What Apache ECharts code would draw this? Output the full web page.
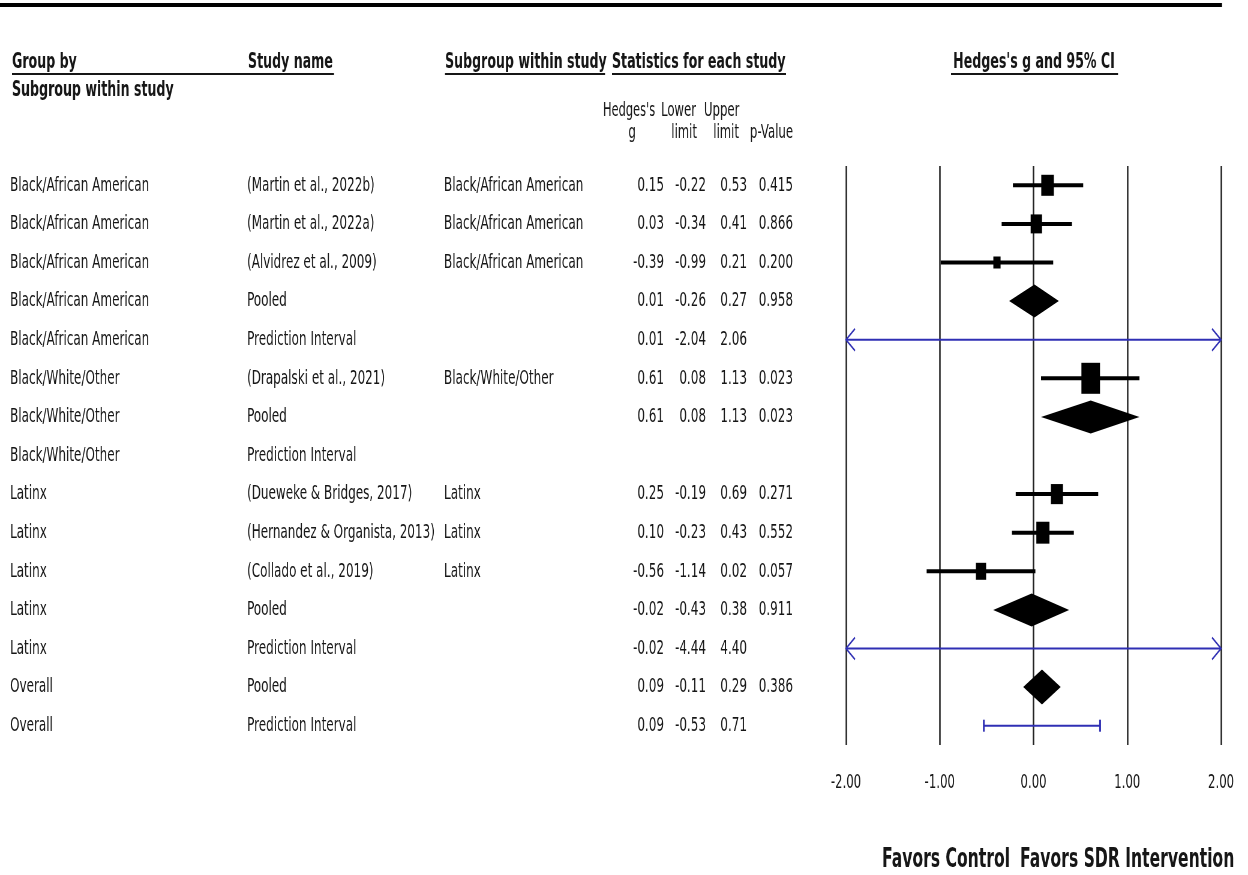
<!DOCTYPE html>
<html>
<head>
<meta charset="utf-8">
<script src="https://cdn.jsdelivr.net/npm/echarts@6/dist/echarts.min.js"></script>
<style>
  html, body { margin: 0; padding: 0; background: #fff; overflow: hidden; width: 1248px; height: 875px; }
  /* the figure is laid out wide and squeezed horizontally, like the exported plot */
  #chart { width: 2080px; height: 875px; transform: scaleX(0.6); transform-origin: 0 0; }
</style>
</head>
<body>
<div id="chart"></div>
<script>
// ---- table rows ----
const groupBy = [
  'Black/African American', 'Black/African American', 'Black/African American',
  'Black/African American', 'Black/African American',
  'Black/White/Other', 'Black/White/Other', 'Black/White/Other',
  'Latinx', 'Latinx', 'Latinx', 'Latinx', 'Latinx',
  'Overall', 'Overall'
];
const studyName = [
  '(Martin et al., 2022b)', '(Martin et al., 2022a)', '(Alvidrez et al., 2009)',
  'Pooled', 'Prediction Interval',
  '(Drapalski et al., 2021)', 'Pooled', 'Prediction Interval',
  '(Dueweke & Bridges, 2017)', '(Hernandez & Organista, 2013)', '(Collado et al., 2019)',
  'Pooled', 'Prediction Interval',
  'Pooled', 'Prediction Interval'
];
const subgroup = [
  'Black/African American', 'Black/African American', 'Black/African American', '', '',
  'Black/White/Other', '', '',
  'Latinx', 'Latinx', 'Latinx', '', '',
  '', ''
];
// row type: individual study, pooled estimate, or prediction interval
const rowKind = [
  'study', 'study', 'study', 'pooled', 'pi',
  'study', 'pooled', 'pi',
  'study', 'study', 'study', 'pooled', 'pi',
  'overall', 'pi'
];
const hedgesG   = [0.15, 0.03, -0.39, 0.01, 0.01, 0.61, 0.61, null, 0.25, 0.10, -0.56, -0.02, -0.02, 0.09, 0.09];
const lowerLim  = [-0.22, -0.34, -0.99, -0.26, -2.04, 0.08, 0.08, null, -0.19, -0.23, -1.14, -0.43, -4.44, -0.11, -0.53];
const upperLim  = [0.53, 0.41, 0.21, 0.27, 2.06, 1.13, 1.13, null, 0.69, 0.43, 0.02, 0.38, 4.40, 0.29, 0.71];
const pValue    = ['0.415', '0.866', '0.200', '0.958', '', '0.023', '0.023', '', '0.271', '0.552', '0.057', '0.911', '', '0.386', ''];
// relative study weights (marker area)
const studyWeight = [0.46, 0.375, 0.15, null, null, 1.0, null, null, 0.42, 0.50, 0.30, null, null, null, null];
// effect-size axis ticks
const xTicks = [-2, -1, 0, 1, 2];

// ---- layout helpers ----
const SX = 0.6;                 // horizontal squeeze applied by CSS
const X = x => x / SX;          // page x -> canvas x
const X_MIN = xTicks[0], X_MAX = xTicks[xTicks.length - 1];
const FONT = '"DejaVu Sans", Verdana, sans-serif';
const INK = '#161616';
const BLUE = '#2f2fb4';

const rowIndex = groupBy.map((_, i) => String(i));

const chart = echarts.init(document.getElementById('chart'), null, { renderer: 'canvas' });

function txt(text, x, y, opts) {
  opts = opts || {};
  return {
    type: 'text',
    x: x, y: y,
    silent: true,
    style: {
      text: text,
      font: (opts.bold ? 'bold ' : '') + (opts.size || 20) + 'px ' + FONT,
      fill: INK,
      textAlign: opts.align || 'left',
      align: opts.align || 'left',
      textVerticalAlign: 'middle',
      verticalAlign: 'middle'
    }
  };
}
function rule(x1, x2, y, h) {
  return { type: 'rect', silent: true, shape: { x: X(x1), y: y, width: X(x2) - X(x1), height: h }, style: { fill: INK } };
}

const fmt = v => (v == null ? '' : v.toFixed(2));

function renderTable(params, api) {
  const i = params.dataIndex;
  const y = api.coord([0, i])[1];
  return {
    type: 'group',
    children: [
      txt(groupBy[i], X(10), y),
      txt(studyName[i], X(247), y),
      txt(subgroup[i], X(444), y),
      txt(fmt(hedgesG[i]), X(664), y, { align: 'right' }),
      txt(fmt(lowerLim[i]), X(706), y, { align: 'right' }),
      txt(fmt(upperLim[i]), X(747), y, { align: 'right' }),
      txt(pValue[i], X(793), y, { align: 'right' })
    ]
  };
}

function renderForest(params, api) {
  const i = params.dataIndex;
  if (hedgesG[i] == null) return null;
  const clamp = v => Math.max(X_MIN, Math.min(X_MAX, v));
  const yc = api.coord([0, i])[1];
  const xl = api.coord([clamp(lowerLim[i]), i])[0];
  const xr = api.coord([clamp(upperLim[i]), i])[0];
  const xg = api.coord([hedgesG[i], i])[0];
  const kind = rowKind[i];

  if (kind === 'study') {
    const h = 31 * Math.sqrt(studyWeight[i]);
    return {
      type: 'group',
      children: [
        { type: 'line', shape: { x1: xl, y1: yc, x2: xr, y2: yc }, style: { stroke: '#000', lineWidth: 4 } },
        { type: 'rect', shape: { x: xg - h / 2, y: yc - h / 2, width: h, height: h }, style: { fill: '#000' } }
      ]
    };
  }
  if (kind === 'pooled' || kind === 'overall') {
    const hh = kind === 'overall' ? 17.5 : 16.5;
    return {
      type: 'polygon',
      shape: { points: [[xl, yc], [xg, yc - hh], [xr, yc], [xg, yc + hh]] },
      style: { fill: '#000' }
    };
  }
  // prediction interval
  const kids = [
    { type: 'line', shape: { x1: xl, y1: yc, x2: xr, y2: yc }, style: { stroke: BLUE, lineWidth: 2 } }
  ];
  const arm = 15, half = 11;
  if (lowerLim[i] < X_MIN) {
    kids.push({ type: 'polyline', shape: { points: [[xl + arm, yc - half], [xl, yc], [xl + arm, yc + half]] }, style: { stroke: BLUE, lineWidth: 2, fill: null } });
  } else {
    kids.push({ type: 'line', shape: { x1: xl, y1: yc - 6, x2: xl, y2: yc + 6 }, style: { stroke: BLUE, lineWidth: 3 } });
  }
  if (upperLim[i] > X_MAX) {
    kids.push({ type: 'polyline', shape: { points: [[xr - arm, yc - half], [xr, yc], [xr - arm, yc + half]] }, style: { stroke: BLUE, lineWidth: 2, fill: null } });
  } else {
    kids.push({ type: 'line', shape: { x1: xr, y1: yc - 6, x2: xr, y2: yc + 6 }, style: { stroke: BLUE, lineWidth: 3 } });
  }
  return { type: 'group', children: kids };
}

const option = {
  backgroundColor: '#fff',
  animation: false,
  grid: { left: X(846), right: 2080 - X(1221), top: 166, height: 579, containLabel: false },
  xAxis: {
    type: 'value',
    min: X_MIN, max: X_MAX, interval: 1,
    axisLine: { show: false },
    axisTick: { show: false },
    splitLine: { show: true, lineStyle: { color: '#222', width: 2.5 } },
    axisLabel: {
      margin: 28,
      fontSize: 19.5,
      fontFamily: FONT,
      color: INK,
      formatter: v => v.toFixed(2)
    }
  },
  yAxis: {
    type: 'category',
    data: rowIndex,
    inverse: true,
    show: false
  },
  graphic: [
    // heavy rule across the top
    { type: 'rect', silent: true, shape: { x: 0, y: 3, width: X(1222), height: 4 }, style: { fill: '#000' } },
    // column headings
    txt('Group by', X(12), 63, { bold: true, size: 21 }),
    txt('Study name', X(248), 63, { bold: true, size: 21 }),
    txt('Subgroup within study', X(445), 63, { bold: true, size: 21 }),
    txt('Statistics for each study', X(612), 63, { bold: true, size: 21 }),
    txt("Hedges's g and 95% CI", X(1034), 63, { bold: true, size: 21, align: 'center' }),
    rule(12, 334, 73, 2),
    rule(445, 605, 73, 2),
    rule(612, 786, 73, 2),
    rule(951, 1118, 73, 2),
    txt('Subgroup within study', X(12), 91, { bold: true, size: 21 }),
    // statistic sub-headings
    txt("Hedges's", X(603), 111, { size: 19 }),
    txt('Lower', X(661), 111, { size: 19.5 }),
    txt('Upper', X(704), 111, { size: 19.5 }),
    txt('g', X(632), 133, { size: 19.5, align: 'center' }),
    txt('limit', X(697), 133, { size: 19.5, align: 'right' }),
    txt('limit', X(739), 133, { size: 19.5, align: 'right' }),
    txt('p-Value', X(793), 133, { size: 19.5, align: 'right' }),
    // direction labels
    txt('Favors Control', X(1010), 860, { bold: true, size: 26, align: 'right' }),
    txt('Favors SDR Intervention', X(1020), 860, { bold: true, size: 26 })
  ],
  series: [
    {
      name: 'table',
      type: 'custom',
      coordinateSystem: 'cartesian2d',
      clip: false,
      silent: true,
      data: rowIndex.map((_, i) => [0, i]),
      renderItem: renderTable
    },
    {
      name: 'forest',
      type: 'custom',
      coordinateSystem: 'cartesian2d',
      clip: false,
      silent: true,
      data: rowIndex.map((_, i) => [hedgesG[i] == null ? 0 : hedgesG[i], i]),
      renderItem: renderForest
    }
  ]
};

chart.setOption(option);
</script>
</body>
</html>
